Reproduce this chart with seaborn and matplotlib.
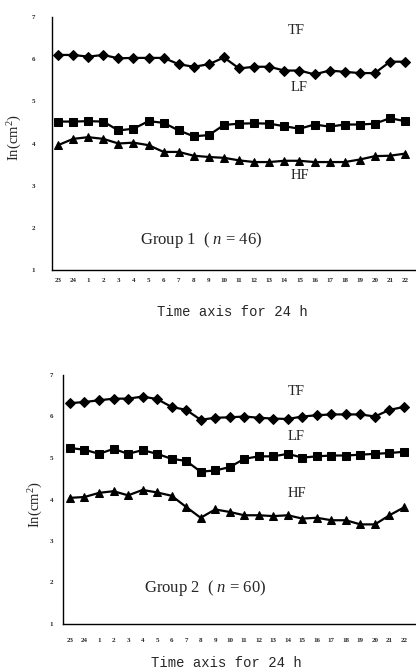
import matplotlib
matplotlib.use("Agg")
import matplotlib.pyplot as plt
import seaborn as sns
import pandas as pd
import numpy as np

hours = ["23", "24", "1", "2", "3", "4", "5", "6", "7", "8", "9", "10", "11",
         "12", "13", "14", "15", "16", "17", "18", "19", "20", "21", "22"]

g1_tf = [6.10, 6.10, 6.06, 6.10, 6.02, 6.03, 6.03, 6.03, 5.88, 5.82, 5.88, 6.04,
         5.78, 5.82, 5.82, 5.73, 5.73, 5.64, 5.73, 5.70, 5.67, 5.67, 5.94, 5.94]
g1_lf = [4.52, 4.52, 4.53, 4.52, 4.31, 4.35, 4.53, 4.49, 4.31, 4.17, 4.20, 4.44,
         4.47, 4.48, 4.47, 4.41, 4.35, 4.45, 4.40, 4.45, 4.45, 4.47, 4.60, 4.53]
g1_hf = [3.96, 4.11, 4.15, 4.11, 4.00, 4.02, 3.96, 3.80, 3.80, 3.71, 3.68, 3.66,
         3.60, 3.56, 3.56, 3.59, 3.59, 3.56, 3.56, 3.56, 3.62, 3.70, 3.71, 3.76]

g2_tf = [6.32, 6.35, 6.39, 6.43, 6.43, 6.48, 6.42, 6.23, 6.16, 5.92, 5.97, 5.98,
         6.00, 5.97, 5.95, 5.94, 6.00, 6.03, 6.05, 6.05, 6.05, 6.00, 6.16, 6.23]
g2_lf = [5.24, 5.20, 5.10, 5.22, 5.10, 5.19, 5.10, 4.98, 4.93, 4.67, 4.70, 4.78,
         4.98, 5.04, 5.04, 5.10, 5.01, 5.04, 5.06, 5.06, 5.08, 5.10, 5.12, 5.15]
g2_hf = [4.04, 4.06, 4.16, 4.20, 4.10, 4.23, 4.17, 4.09, 3.82, 3.56, 3.76, 3.70,
         3.62, 3.62, 3.60, 3.62, 3.54, 3.56, 3.50, 3.50, 3.40, 3.40, 3.62, 3.81]

yticks = [1, 2, 3, 4, 5, 6, 7]
series_names = ["TF", "LF", "HF"]
group_titles = ["Group 1", "Group 2"]
group_n = [46, 60]

sns.set_theme(style="white")
plt.rcParams["font.family"] = ["Liberation Serif", "DejaVu Serif"]
plt.rcParams["mathtext.fontset"] = "custom"
plt.rcParams["mathtext.it"] = "Liberation Serif:italic"
plt.rcParams["mathtext.rm"] = "Liberation Serif"

fig = plt.figure(figsize=(4.16, 6.69), dpi=100)
W, H = 416, 669

def make_df(tf, lf, hf):
    rows = []
    for name, vals in zip(series_names, [tf, lf, hf]):
        for i, v in enumerate(vals):
            rows.append({"idx": i, "value": v, "series": name})
    return pd.DataFrame(rows)

panels = [
    dict(data=(g1_tf, g1_lf, g1_hf), box=(52, 17, 415, 270), xlim=(-0.40, 23.66),
         labpos={"TF": (15.8, 6.69), "LF": (16.0, 5.32), "HF": (16.0, 3.25)},
         gpos=(9.5, 1.71), xlab=(232, 312), ylab=(15, 138), ypad=12, xpad=6),
    dict(data=(g2_tf, g2_lf, g2_hf), box=(63, 375, 415, 624), xlim=(-0.48, 23.76),
         labpos={"TF": (15.6, 6.60), "LF": (15.6, 5.51), "HF": (15.6, 4.15)},
         gpos=(9.3, 1.87), xlab=(226, 663), ylab=(36, 505), ypad=7, xpad=10),
]

markers = {"TF": "D", "LF": "s", "HF": "^"}
msize = {"TF": 5.0, "LF": 5.5, "HF": 6.0}

for k, p in enumerate(panels):
    x0, y0, x1, y1 = p["box"]
    ax = fig.add_axes([x0 / W, 1 - y1 / H, (x1 - x0) / W, (y1 - y0) / H])
    df = make_df(*p["data"])
    for name in series_names:
        sub = df[df["series"] == name]
        sns.lineplot(data=sub, x="idx", y="value", ax=ax, color="black",
                     marker=markers[name], markersize=msize[name],
                     markeredgecolor="black", linewidth=1.6, legend=False)
        lx, ly = p["labpos"][name]
        ax.text(lx, ly, name, ha="center", va="center", fontsize=10.5,
                family=["Liberation Serif"])
    ax.set_xlim(*p["xlim"])
    ax.set_ylim(1, 7)
    ax.set_xticks(range(len(hours)))
    ax.set_xticklabels(hours, fontsize=5, fontweight="bold")
    ax.set_yticks(yticks)
    ax.set_yticklabels([str(t) for t in yticks], fontsize=5, fontweight="bold")
    ax.tick_params(axis="x", length=1.5, width=0.6, direction="in", pad=p["xpad"])
    ax.tick_params(axis="y", length=1.5, width=0.6, direction="in", pad=p["ypad"])
    ax.set_xlabel("")
    ax.set_ylabel("")
    for s in ["top", "right"]:
        ax.spines[s].set_visible(False)
    for s in ["left", "bottom"]:
        ax.spines[s].set_color("black")
        ax.spines[s].set_linewidth(1.0)
    ax.set_facecolor("white")
    gx, gy = p["gpos"]
    ax.text(gx, gy, group_titles[k] + "  ( $n$ = " + str(group_n[k]) + ")",
            ha="center", va="center", fontsize=12)
    fig.text(p["xlab"][0] / W, 1 - p["xlab"][1] / H, "Time axis for 24 h",
             ha="center", va="center", fontsize=10,
             family=["Liberation Mono"])
    fig.text(p["ylab"][0] / W, 1 - p["ylab"][1] / H, "In(cm$^2$)",
             ha="center", va="center", fontsize=10.5, rotation=90)

fig.savefig("out.png", dpi=100, facecolor="white")
